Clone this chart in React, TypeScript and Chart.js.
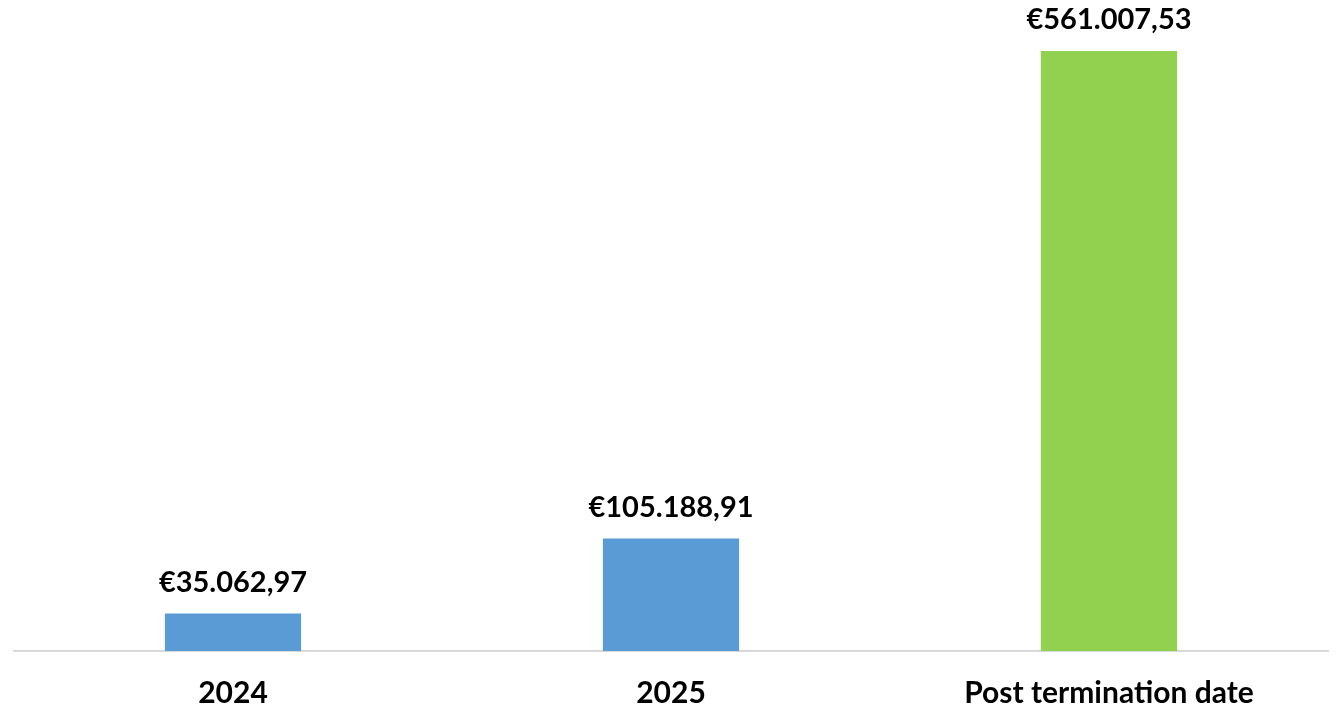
import React, { useEffect, useRef } from "react";
import { Chart, registerables } from "chart.js";

Chart.register(...registerables);

const categories = ["2024", "2025", "Post termination date"];
const values = [35062.97, 105188.91, 561007.53];
const valueLabels = ["€35.062,97", "€105.188,91", "€561.007,53"];
const barColors = ["#5B9BD5", "#5B9BD5", "#92D050"];

const FONT = "Lato, 'Open Sans', sans-serif";

const labelPlugin = {
  id: "valueLabels",
  afterDatasetsDraw(chart: any) {
    const ctx = chart.ctx;
    const meta = chart.getDatasetMeta(0);
    ctx.save();
    ctx.font = `bold 29px ${FONT}`;
    ctx.fillStyle = "#000000";
    ctx.textAlign = "center";
    ctx.textBaseline = "middle";
    meta.data.forEach((bar: any, i: number) => {
      ctx.fillText(valueLabels[i], bar.x, bar.y - 31);
    });
    ctx.restore();
  },
};

export default function App() {
  const ref = useRef<HTMLCanvasElement | null>(null);
  useEffect(() => {
    document.body.style.margin = "0";
    const chart = new Chart(ref.current as HTMLCanvasElement, {
      type: "bar",
      data: {
        labels: categories,
        datasets: [
          {
            data: values,
            backgroundColor: barColors,
            barPercentage: 0.311,
            categoryPercentage: 1,
          },
        ],
      },
      options: {
        animation: false,
        responsive: false,
        maintainAspectRatio: false,
        layout: { padding: { left: 14, right: 15, top: 0, bottom: 0 } },
        plugins: { legend: { display: false }, tooltip: { enabled: false } },
        scales: {
          x: {
            grid: { display: false, drawTicks: false },
            border: { display: true, color: "#d9d9d9", width: 2 },
            ticks: {
              color: "#000000",
              font: { family: FONT, size: 30, weight: "bold" },
              padding: 24,
              maxRotation: 0,
              autoSkip: false,
            },
            afterFit(scale: any) {
              scale.height = 58;
            },
          },
          y: {
            display: false,
            min: 0,
            max: 608700,
          },
        },
      },
      plugins: [labelPlugin],
    });
    return () => chart.destroy();
  }, []);
  return (
    <div style={{ width: 1343, height: 709 }}>
      <canvas ref={ref} width={1343} height={709} style={{ width: 1343, height: 709, display: "block" }} />
    </div>
  );
}
